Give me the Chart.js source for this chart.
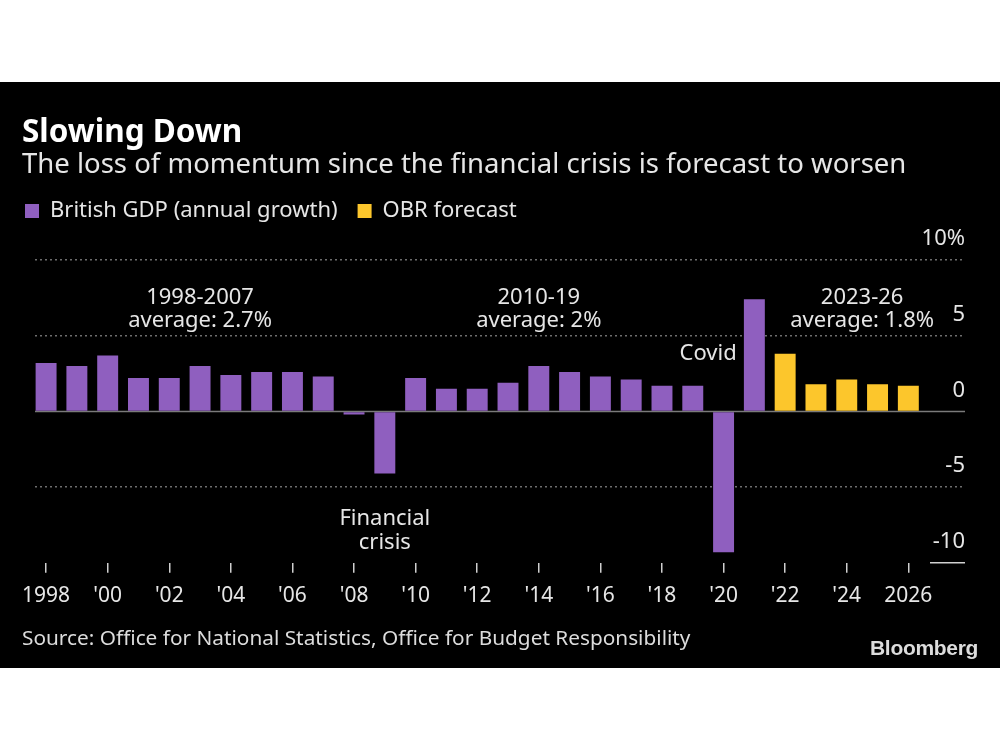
<!DOCTYPE html>
<html>
<head>
<meta charset="utf-8">
<script src="https://cdn.jsdelivr.net/npm/chart.js@4.4.0/dist/chart.umd.min.js"></script>
<style>
  body { margin: 0; background: #fff; }
  #panel { position: absolute; left: 0; top: 82px; width: 1000px; height: 586px; background: #000; font-family: 'Noto Sans', sans-serif; }
  #box { position: absolute; left: 0; top: 0; width: 1000px; height: 586px; }
  .txt { position: absolute; white-space: nowrap; color: #e6e6e6; }
  #title { left: 22px; top: 32px; font-size: 31.5px; line-height: 32px; font-weight: bold; color: #fff; }
  #subtitle { left: 22px; top: 67px; font-size: 27.5px; line-height: 28px; }
  #source { left: 22px; top: 544px; font-size: 20.8px; line-height: 22px; color: #dcdcdc; }
  #brand { left: 870px; top: 555px; font-family: 'Liberation Sans', sans-serif; font-size: 21px; line-height: 22px; font-weight: bold; letter-spacing: -0.3px; color: #dcdcdc; }
</style>
</head>
<body>
<div id="panel">
  <div id="box"><canvas id="chart-gdp"></canvas></div>
  <div class="txt" id="title">Slowing Down</div>
  <div class="txt" id="subtitle">The loss of momentum since the financial crisis is forecast to worsen</div>
  <div class="txt" id="source">Source: Office for National Statistics, Office for Budget Responsibility</div>
  <div class="txt" id="brand">Bloomberg</div>
</div>
<script>
// actual annual growth, %
const actual_years = [1998, 1999, 2000, 2001, 2002, 2003, 2004, 2005, 2006, 2007, 2008, 2009,
    2010, 2011, 2012, 2013, 2014, 2015, 2016, 2017, 2018, 2019, 2020, 2021];
const actual_growth = [3.2, 3.0, 3.7, 2.2, 2.2, 3.0, 2.4, 2.6, 2.6, 2.3, -0.2, -4.1,
    2.2, 1.5, 1.5, 1.9, 3.0, 2.6, 2.3, 2.1, 1.7, 1.7, -9.3, 7.4];

// OBR forecast
const forecast_years = [2022, 2023, 2024, 2025, 2026];
const forecast_growth = [3.8, 1.8, 2.1, 1.8, 1.7];

const tick_years = [1998, 2000, 2002, 2004, 2006, 2008, 2010, 2012, 2014, 2016, 2018, 2020, 2022, 2024, 2026];
const tick_labels = ['1998', "'00", "'02", "'04", "'06", "'08", "'10", "'12", "'14", "'16", "'18", "'20", "'22", "'24", '2026'];

const notes = [
    { lines: ['1998-2007', 'average: 2.7%'], x: 2003, y: [7.5, 6.0] },
    { lines: ['2010-19', 'average: 2%'], x: 2014, y: [7.5, 6.0] },
    { lines: ['2023-26', 'average: 1.8%'], x: 2024.5, y: [7.5, 6.0] },
    { lines: ['Covid'], x: 2019.5, y: [3.8] },
    { lines: ['Financial', 'crisis'], x: 2009, y: [-7.1, -8.7] },
];

const purple = '#8f5fbf';
const yellow = '#fcc62c';
const textColor = '#e6e6e6';

const toPoints = (xs, ys) => xs.map((x, i) => ({ x: x, y: ys[i] }));

const extras = {
    id: 'extras',
    beforeDatasetsDraw(chart) {
        const { ctx, chartArea, scales: { y } } = chart;
        ctx.save();
        ctx.strokeStyle = '#7a7a7a';
        ctx.lineWidth = 1.5;
        ctx.beginPath();
        ctx.moveTo(chartArea.left, y.getPixelForValue(0));
        ctx.lineTo(chartArea.right, y.getPixelForValue(0));
        ctx.stroke();
        // short base line under the -10 label
        ctx.strokeStyle = '#d0d0d0';
        ctx.beginPath();
        ctx.moveTo(chartArea.right - 35, y.getPixelForValue(-10));
        ctx.lineTo(chartArea.right, y.getPixelForValue(-10));
        ctx.stroke();
        ctx.restore();
    },
    afterDatasetsDraw(chart) {
        const { ctx, scales: { x, y } } = chart;
        ctx.save();
        ctx.fillStyle = textColor;
        ctx.font = '22px "Noto Sans"';
        ctx.textAlign = 'center';
        ctx.textBaseline = 'middle';
        notes.forEach(note => {
            note.lines.forEach((line, i) => {
                ctx.fillText(line, x.getPixelForValue(note.x), y.getPixelForValue(note.y[i]));
            });
        });
        ctx.restore();
    }
};

// empty axes, only used to reserve room around the plot
const spacer = (position, size) => ({
    type: 'linear',
    position: position,
    grid: { display: false },
    ticks: { display: false },
    border: { display: false },
    afterFit: s => {
        if (s.isHorizontal()) s.height = size; else s.width = size;
    }
});

new Chart(document.getElementById('chart-gdp'), {
    type: 'bar',
    data: {
        datasets: [
            {
                label: 'British GDP (annual growth)',
                data: toPoints(actual_years, actual_growth),
                backgroundColor: purple,
                borderWidth: 0,
                xAxisID: 'x',
                yAxisID: 'y',
                grouped: false,
                barPercentage: 1,
                categoryPercentage: 0.68,
            },
            {
                label: 'OBR forecast',
                data: toPoints(forecast_years, forecast_growth),
                backgroundColor: yellow,
                borderWidth: 0,
                xAxisID: 'x',
                yAxisID: 'y',
                grouped: false,
                barPercentage: 1,
                categoryPercentage: 0.68,
            },
        ]
    },
    options: {
        responsive: true,
        maintainAspectRatio: false,
        animation: false,
        layout: {
            padding: { top: 98, right: 35, bottom: 48, left: 5 }
        },
        plugins: {
            tooltip: { enabled: false },
            legend: {
                align: 'start',
                labels: {
                    color: textColor,
                    font: { family: 'Noto Sans', size: 22 },
                    boxWidth: 14,
                    boxHeight: 14,
                    padding: 20,
                }
            }
        },
        scales: {
            x: {
                type: 'linear',
                min: 1997.64,
                max: 2027.84,
                offset: false,
                afterBuildTicks: s => { s.ticks = tick_years.map(v => ({ value: v })); },
                grid: {
                    offset: false,
                    drawOnChartArea: false,
                    drawTicks: true,
                    tickLength: 10,
                    color: '#cfcfcf',
                    lineWidth: 1.5,
                },
                border: { display: false },
                ticks: {
                    color: textColor,
                    font: { family: 'Noto Sans', size: 21 },
                    padding: 11,
                    maxRotation: 0,
                    autoSkip: false,
                    callback: v => tick_labels[tick_years.indexOf(v)],
                }
            },
            y: {
                position: 'right',
                min: -10,
                max: 10,
                afterFit: s => { s.width = 0; },
                grid: {
                    drawTicks: false,
                    color: c => (c.tick.value === 0 || c.tick.value === -10) ? 'rgba(0,0,0,0)' : '#6e6e6e',
                    lineWidth: 1.5,
                },
                border: { display: false, dash: [2, 3] },
                ticks: {
                    stepSize: 5,
                    mirror: true,
                    padding: 0,
                    labelOffset: -21,
                    color: textColor,
                    font: { family: 'Noto Sans', size: 22 },
                    callback: v => v === 10 ? '10%' : v,
                }
            },
            padLeft: spacer('left', 30),
            padTop: spacer('top', 28),
        }
    },
    plugins: [extras]
});
</script>
</body>
</html>
